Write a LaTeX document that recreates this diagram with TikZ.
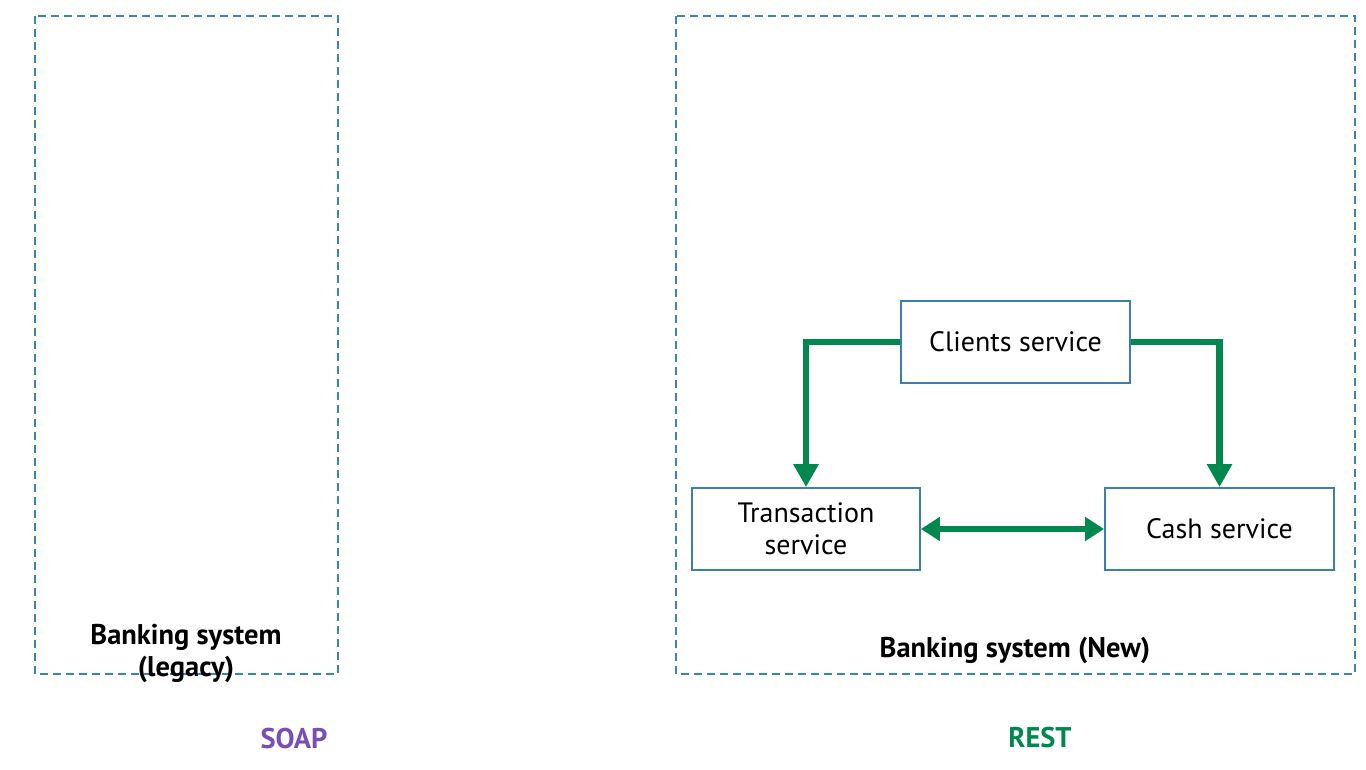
\documentclass[tikz,border=0pt]{standalone}
\usepackage{fontspec}
\setmainfont{PT Sans}
\usetikzlibrary{arrows.meta}
\definecolor{dashblue}{HTML}{3A86B0}
\definecolor{boxblue}{HTML}{3A7FB0}
\definecolor{arrgreen}{HTML}{00884F}
\definecolor{soapviolet}{HTML}{7A4FB5}
\tikzset{
  region/.style={draw=dashblue, line width=1.8pt, dash pattern=on 8pt off 5pt},
  svc/.style={draw=boxblue, line width=1.8pt, fill=white, inner sep=0pt, align=center, font=\fontsize{28}{32}\selectfont},
  flow/.style={draw=arrgreen, line width=6.5pt, -{Triangle[width=24pt,length=23pt]}},
  flow2/.style={draw=arrgreen, line width=6.5pt, {Triangle[width=23pt,length=19pt]}-{Triangle[width=23pt,length=19pt]}},
  lbl/.style={font=\bfseries\fontsize{28.5}{32}\selectfont, align=center, inner sep=0pt},
}
\begin{document}
\begin{tikzpicture}[x=1pt,y=-1pt]
\useasboundingbox (0,0) rectangle (1366,770);
\fill[white] (0,0) rectangle (1366,770);
% regions
\draw[region] (35,16) rectangle (338,674);
\draw[region] (676,16) rectangle (1355,674);
% services
\node[svc, minimum width=229pt, minimum height=82pt] (clients) at (1015.5,342) {Clients service};
\node[svc, minimum width=228pt, minimum height=82pt] (trans) at (806,529) {Transaction\\service};
\node[svc, minimum width=229pt, minimum height=82pt] (cash) at (1219.5,529) {Cash service};
% arrows
\draw[flow] (clients.west) -| (trans.north);
\draw[flow] (clients.east) -| (cash.north);
\draw[flow2] (trans.east) -- (cash.west);
% labels
\node[lbl] (legacy) at (186,653) {Banking system\\(legacy)};
\node[lbl] (newsys) at (1015,650) {Banking system (New)};
\node[lbl, text=soapviolet] (soap) at (294,739) {SOAP};
\node[lbl, text=arrgreen] (rest) at (1040,738) {REST};
\end{tikzpicture}
\end{document}
